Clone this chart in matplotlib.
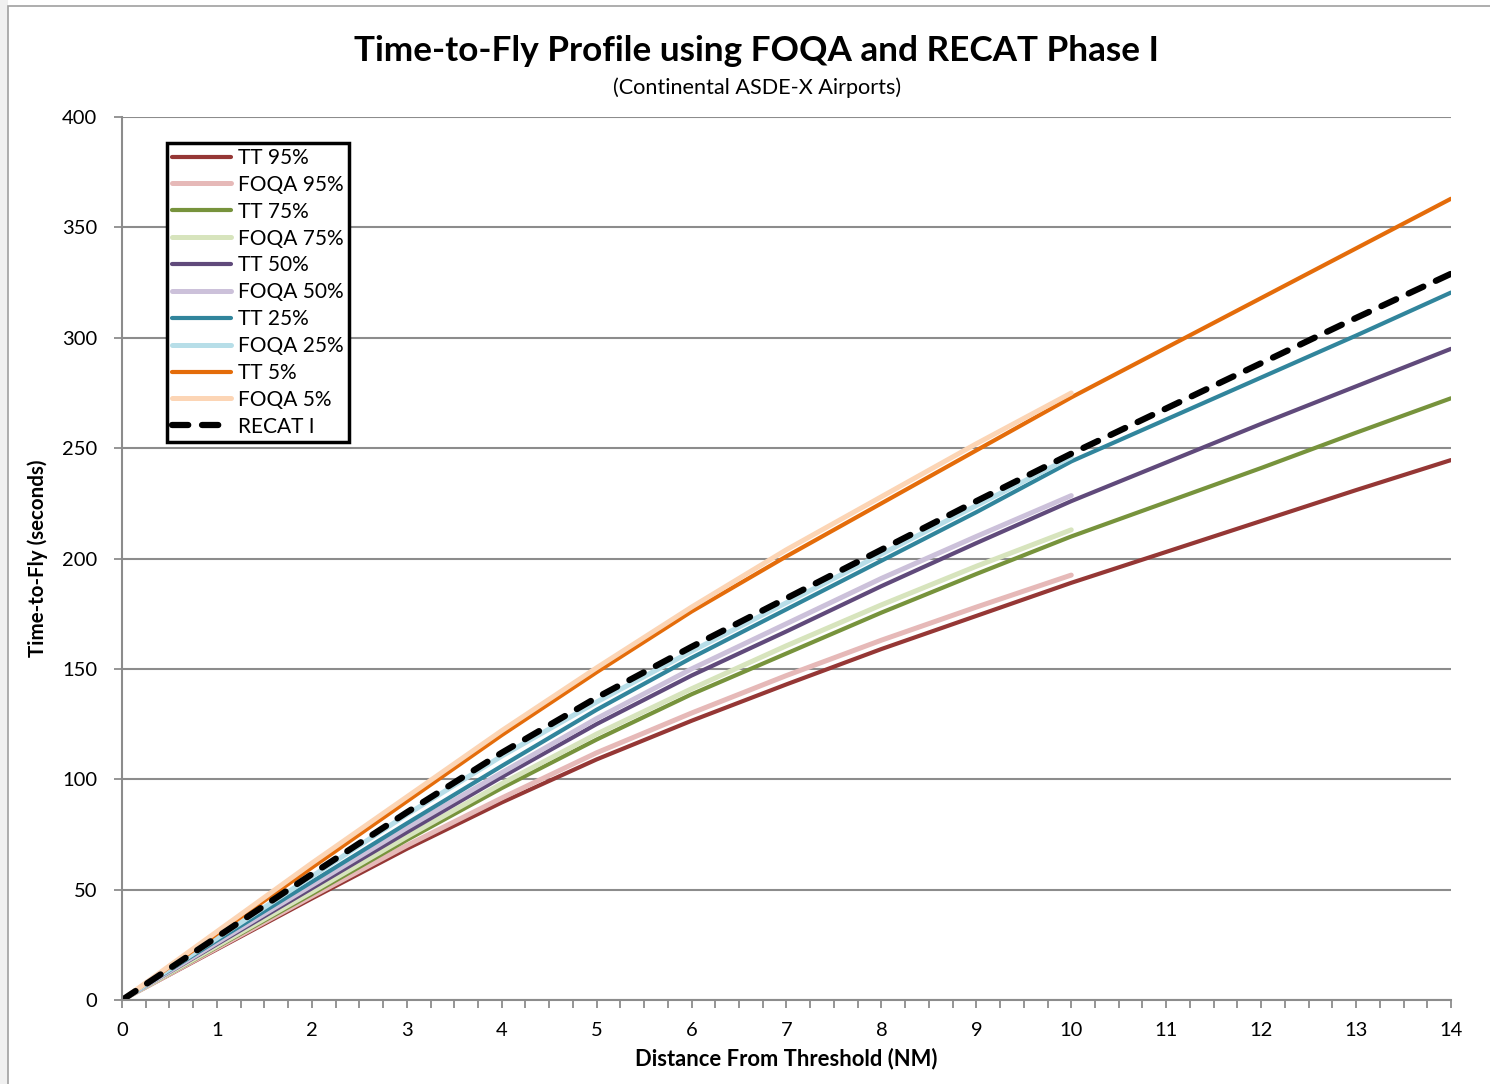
import matplotlib.pyplot as plt
import matplotlib.ticker as ticker
from matplotlib.patches import Rectangle

plt.rcParams['font.family'] = ['Lato', 'DejaVu Sans']

# Datos
dist_tt = [0, 1, 2, 3, 4, 5, 6, 7, 8, 9, 10, 11, 12, 13, 14]
dist_foqa = [0, 1, 2, 3, 4, 5, 6, 7, 8, 9, 10]

tt_95 = [0, 23, 46, 68.5, 89.5, 109, 126.5, 143, 159, 174, 189, 203, 217, 231, 244.6]
foqa_95 = [0, 23.5, 47, 70, 91.5, 112, 130, 147, 163, 178, 192.5]
tt_75 = [0, 24, 48, 72.5, 96, 118, 138.5, 157, 175.5, 193, 210, 225.5, 241, 257, 272.6]
foqa_75 = [0, 24.5, 49, 74, 98, 120.5, 141, 160.5, 179, 196.5, 213]
tt_50 = [0, 25.3, 50.6, 76, 101, 125, 147, 167, 187.5, 207, 226, 243.5, 261, 278, 295]
foqa_50 = [0, 26, 52, 78, 103, 127.5, 150, 170.5, 191, 210, 228.5]
tt_25 = [0, 27, 53.5, 80, 106, 131.5, 155, 177, 199, 221, 244, 263, 282, 301, 320.5]
foqa_25 = [0, 28, 56, 84, 110.5, 135, 158, 180, 202, 224, 246]
tt_5 = [0, 30, 60, 90, 120, 148.5, 176, 201, 225, 249, 273, 295.5, 318, 340.5, 363]
foqa_5 = [0, 31, 62, 92, 122, 150.5, 178, 204, 228, 252, 275]
recat_1 = [0, 28.5, 57, 85, 112, 137, 160, 182, 204, 226, 247.5, 268, 288.5, 309, 329]

fig = plt.figure(figsize=(14.9, 10.84), dpi=100)
ax = fig.add_axes([0.0819, 0.0775, 0.8919, 0.8145])

# Marco de la captura
fig.patches.append(Rectangle((0, 0), 8 / 1490, 1, transform=fig.transFigure,
                             facecolor='#f0f0f0', edgecolor='none', zorder=-5))
fig.patches.append(Rectangle((8 / 1490, -0.01), 1.0, 1 - 6 / 1084 + 0.01,
                             transform=fig.transFigure, facecolor='white',
                             edgecolor='#a0a0a0', lw=1.2, zorder=-4))

# Series
ax.plot(dist_tt, tt_95, color='#953735', lw=3, label='TT 95%', solid_capstyle='round')
ax.plot(dist_foqa, foqa_95, color='#e6b9b8', lw=3.6, label='FOQA 95%', solid_capstyle='round')
ax.plot(dist_tt, tt_75, color='#77933c', lw=3, label='TT 75%', solid_capstyle='round')
ax.plot(dist_foqa, foqa_75, color='#d7e4bd', lw=3.6, label='FOQA 75%', solid_capstyle='round')
ax.plot(dist_tt, tt_50, color='#604a7b', lw=3, label='TT 50%', solid_capstyle='round')
ax.plot(dist_foqa, foqa_50, color='#ccc1da', lw=3.6, label='FOQA 50%', solid_capstyle='round')
ax.plot(dist_tt, tt_25, color='#31859c', lw=3, label='TT 25%', solid_capstyle='round')
ax.plot(dist_foqa, foqa_25, color='#b7dee8', lw=3.6, label='FOQA 25%', solid_capstyle='round')
ax.plot(dist_tt, tt_5, color='#e46c0a', lw=3, label='TT 5%', solid_capstyle='round')
ax.plot(dist_foqa, foqa_5, color='#fcd5b5', lw=3.6, label='FOQA 5%', solid_capstyle='round')
ax.plot(dist_tt, recat_1, color='black', lw=4.5, label='RECAT I',
        dashes=(2.6, 2.2), dash_capstyle='round')

# Ejes
ax.set_xlim(0, 14)
ax.set_ylim(0, 400)
ax.xaxis.set_major_locator(ticker.MultipleLocator(1))
ax.xaxis.set_minor_locator(ticker.MultipleLocator(0.25))
ax.yaxis.set_major_locator(ticker.MultipleLocator(50))
ax.grid(axis='y', color='#8c8c8c', lw=1.5)
ax.set_axisbelow(True)
for s in ['top', 'right']:
    ax.spines[s].set_visible(False)
for s in ['left', 'bottom']:
    ax.spines[s].set_color('#8c8c8c')
    ax.spines[s].set_linewidth(1.5)
ax.tick_params(axis='both', which='both', color='#8c8c8c', width=1.3,
               labelsize=14.5, direction='out')
ax.tick_params(axis='x', which='both', length=6, pad=10)
ax.tick_params(axis='y', which='major', length=6, pad=12)

ax.set_xlabel('Distance From Threshold (NM)', fontsize=15.8, fontweight='bold', labelpad=6)
ax.set_ylabel('Time-to-Fly (seconds)', fontsize=14.8, fontweight='bold', labelpad=10)

fig.text(0.508, 0.953, 'Time-to-Fly Profile using FOQA and RECAT Phase I',
         ha='center', va='center', fontsize=25.3, fontweight='bold')
fig.text(0.508, 0.919, '(Continental ASDE-X Airports)', ha='center', va='center',
         fontsize=15.6)

leg = ax.legend(loc='upper left', bbox_to_anchor=(0.034, 0.971), borderaxespad=0,
                fontsize=15, fancybox=False, framealpha=1, edgecolor='black',
                labelspacing=0.33, handlelength=2.8, handletextpad=0.35,
                borderpad=0.25)
leg.get_frame().set_linewidth(2.5)

fig.savefig('out.png', dpi=100)
